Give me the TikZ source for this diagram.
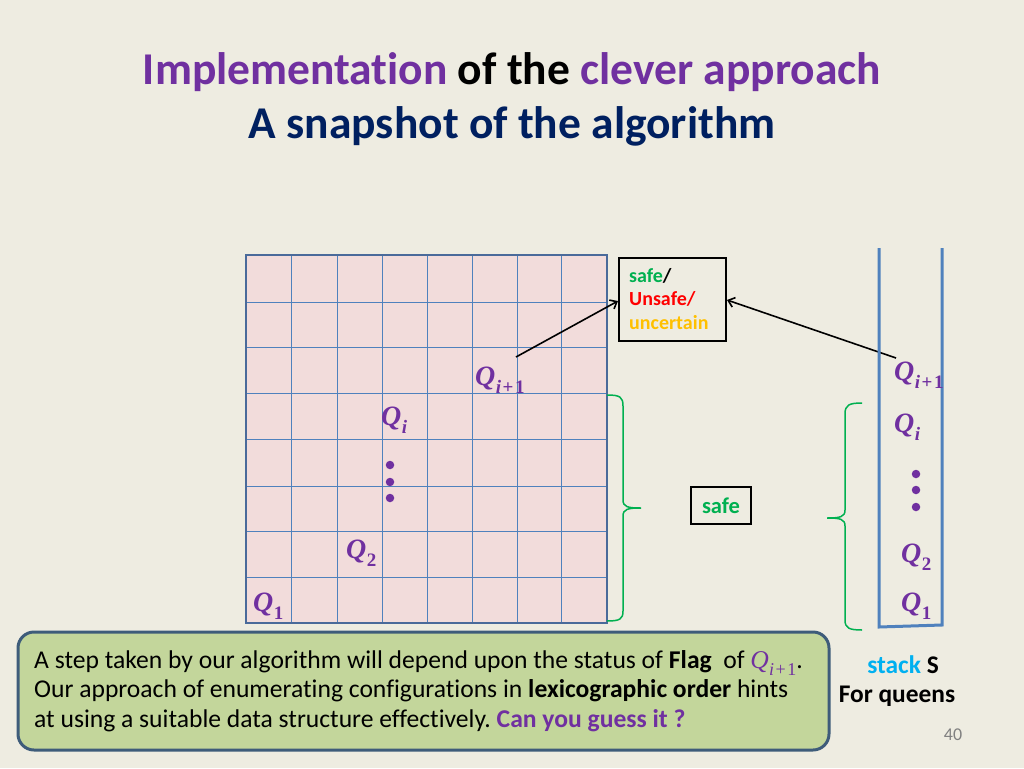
\documentclass[tikz,border=0pt]{standalone}
\usepackage{fontspec}
\usetikzlibrary{arrows.meta}
\setmainfont[Ligatures=CommonOff]{Carlito}
\newfontfamily\qfont{Liberation Serif}
\frenchspacing
\definecolor{bg}{HTML}{EEECE1}
\definecolor{ttlpurple}{HTML}{7030A0}
\definecolor{ttlblue}{HTML}{002060}
\definecolor{qpurple}{HTML}{7030A0}
\definecolor{gridline}{HTML}{4F81BD}
\definecolor{gridborder}{HTML}{4A6A9A}
\definecolor{gridfill}{HTML}{F2DCDB}
\definecolor{safegreen}{HTML}{00B050}
\definecolor{unsafered}{HTML}{FF0000}
\definecolor{uncyellow}{HTML}{FFC000}
\definecolor{stackblue}{HTML}{00B0F0}
\definecolor{boxgreen}{HTML}{C3D69B}
\definecolor{boxborder}{HTML}{3E5C7A}
\definecolor{bracegreen}{HTML}{00B050}
\newcommand\QQ[1]{{\color{qpurple}\qfont\bfseries\itshape Q\kern0.5pt\raisebox{-0.3em}{\fontsize{19}{19}\selectfont #1}}}
\newcommand\QQr[1]{{\color{qpurple}\qfont\itshape Q\kern0.3pt\raisebox{-0.3em}{\fontsize{18}{18}\selectfont #1}}}
\newcommand\plusone{\upshape\kern1.5pt+\kern1.5pt1}
\begin{document}
\begin{tikzpicture}[x=1pt,y=-1pt,
  qlabel/.style={inner sep=0pt,font=\fontsize{28}{28}\selectfont},
  flagbox/.style={draw=black,line width=1.4pt,fill=bg,inner sep=0pt},
  conn/.style={->,line width=1.6pt,>={Straight Barb[length=6pt,width=10pt]}},
  brace/.style={draw=bracegreen,line width=1.5pt},
  stackline/.style={draw=gridline,line width=3pt},
  qdot/.style={circle,fill=qpurple,inner sep=0pt,minimum size=8.5pt}]
\useasboundingbox (0,0) rectangle (1024,768);
\fill[bg] (0,0) rectangle (1024,768);
% title
\node[anchor=center,font=\fontsize{45.5}{45.5}\selectfont\bfseries] (title1) at (512,72)
  {\textcolor{ttlpurple}{Implementation} of the \textcolor{ttlpurple}{clever approach}};
\node[anchor=center,font=\fontsize{45.5}{45.5}\selectfont\bfseries,text=ttlblue] (title2) at (512,126)
  {A snapshot of the algorithm};
% grid
\fill[gridfill] (246,255) rectangle (607,623);
\foreach \x in {291,337,382,427,472,517,561}
  \draw[gridline,line width=1pt] (\x,255) -- (\x,623);
\foreach \y in {302,347,393,439,486,531,577}
  \draw[gridline,line width=1pt] (246,\y) -- (607,\y);
\draw[gridborder,line width=2.5pt] (246,255) rectangle (607,623);
% grid labels
\node[qlabel,anchor=base west] (gq3) at (475,385) {\QQ{i\plusone}};
\node[qlabel,anchor=base west] (gqi) at (381,425) {\QQ{i}};
\node[qdot] (gd1) at (390,465) {};
\node[qdot] (gd2) at (390,482) {};
\node[qdot] (gd3) at (390,498) {};
\node[qlabel,anchor=base west] (gq2) at (346,558) {\QQ{\upshape 2}};
\node[qlabel,anchor=base west] (gq1) at (253,611) {\QQ{\upshape 1}};
% flag box
\node[flagbox,minimum width=107pt,minimum height=83pt] (flag) at (672.5,299.5) {};
\node[anchor=north west,inner sep=0pt,align=left,font=\fontsize{20}{23.5}\selectfont\bfseries] (flagtxt) at (629,268)
  {\textcolor{safegreen}{safe}/\\ \textcolor{unsafered}{Unsafe/}\\ \textcolor{uncyellow}{uncertain}};
\coordinate (a1s) at (516,357);
\coordinate (a1e) at (618,301);
\coordinate (a2s) at (896,358);
\coordinate (a2e) at (727,300);
\draw[conn] (a1s) -- (a1e);
\draw[conn] (a2s) -- (a2e);
% safe box
\node[flagbox,minimum width=60pt,minimum height=37pt,font=\fontsize{22.5}{22.5}\selectfont\bfseries,text=safegreen] (safe) at (721,505.5) {safe};
% braces
\draw[brace] (607,395) .. controls (620,395) and (623,397) .. (623,406) -- (623,500)
  .. controls (623,507) and (628,508) .. (641,508)
  .. controls (628,508) and (623,509) .. (623,516) -- (623,611)
  .. controls (623,619) and (620,621) .. (607,621);
\draw[brace] (862,403) .. controls (849,403) and (845,405) .. (845,414) -- (845,510)
  .. controls (845,517) and (840,518) .. (827,518)
  .. controls (840,518) and (845,519) .. (845,526) -- (845,620)
  .. controls (845,628) and (849,630) .. (862,630);
% stack
\draw[stackline] (879,248) -- (879,627) -- (942,625) -- (942,248);
\node[qlabel,anchor=base west] (sq3) at (894,380) {\QQ{i\plusone}};
\node[qlabel,anchor=base west] (sqi) at (894,432) {\QQ{i}};
\node[qdot] (sd1) at (916,474) {};
\node[qdot] (sd2) at (916,490) {};
\node[qdot] (sd3) at (916,507) {};
\node[qlabel,anchor=base west] (sq2) at (901,562) {\QQ{\upshape 2}};
\node[qlabel,anchor=base west] (sq1) at (901,611) {\QQ{\upshape 1}};
% bottom box
\node[draw=boxborder,line width=3pt,fill=boxgreen,rounded corners=16pt,minimum width=811pt,minimum height=118pt] (note) at (423.5,691) {};
\node[anchor=north west,inner sep=0pt,align=left,font=\fontsize{25.6}{29.7}\selectfont] (notetxt) at (34,650)
  {A step taken by our algorithm will depend upon the status of \textbf{Flag}\ \ of \QQr{i\plusone}.\\
   Our approach of enumerating configurations in \textbf{lexicographic order} hints\\
   at using a suitable data structure effectively. \textbf{\textcolor{ttlpurple}{Can you guess it ?}}};
% stack caption
\node[anchor=center,font=\fontsize{25.4}{25.4}\selectfont\bfseries] (cap1) at (903,665) {\textcolor{stackblue}{stack} S};
\node[anchor=center,font=\fontsize{25.4}{25.4}\selectfont\bfseries] (cap2) at (897,696) {For queens};
\node[anchor=center,font=\fontsize{18}{18}\selectfont,text=gray] (pgnum) at (953,735) {40};
\end{tikzpicture}
\end{document}
